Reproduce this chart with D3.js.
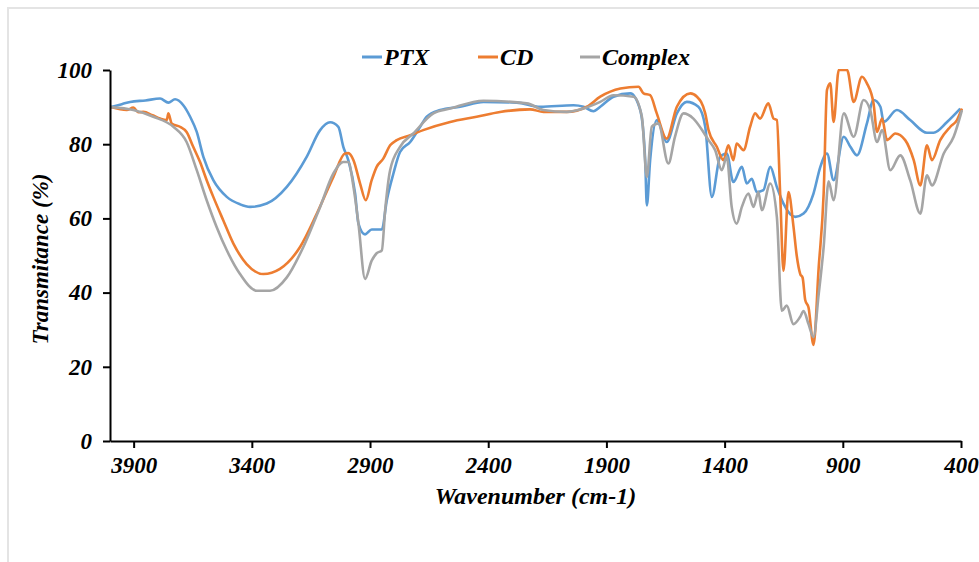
<!DOCTYPE html>
<html>
<head>
<meta charset="utf-8">
<script src="https://cdn.jsdelivr.net/npm/d3@7"></script>
<style>
    body { margin: 0; background: #fff; }
    text { font-family: 'Liberation Serif', 'Times New Roman', serif; font-weight: bold; font-style: italic; }
</style>
</head>
<body>
<script>
// wavenumbers (cm-1) and transmittance (%)
const ptxWn = [3996, 3950, 3915, 3850, 3788, 3753, 3725, 3690, 3661, 3633, 3605, 3563, 3506, 3450, 3408, 3337, 3252, 3168, 3111, 3069, 3034, 3013, 2992, 2963, 2949, 2921, 2893, 2850, 2829, 2801, 2773, 2730, 2688, 2660, 2603, 2519, 2420, 2279, 2180, 2039, 1997, 1955, 1926, 1870, 1799, 1757, 1736, 1729, 1715, 1687, 1645, 1602, 1560, 1511, 1482, 1454, 1419, 1391, 1363, 1327, 1306, 1285, 1264, 1236, 1207, 1179, 1151, 1101, 1066, 1024, 995, 967, 939, 896, 868, 840, 798, 770, 741, 727, 671, 615, 544, 516, 459, 403]
const ptxT = [90.0, 90.8, 91.4, 91.8, 92.3, 91.2, 92.1, 90.5, 87.4, 83.3, 76.6, 70.3, 65.8, 63.8, 63.1, 64.0, 68.5, 76.6, 83.8, 85.9, 84.7, 79.3, 75.7, 66.7, 58.6, 55.7, 57.0, 57.0, 64.9, 72.1, 77.9, 80.6, 84.7, 87.4, 89.2, 90.1, 91.4, 91.2, 90.1, 90.5, 90.1, 88.9, 90.1, 92.8, 93.7, 89.2, 75.7, 63.5, 75.7, 86.5, 80.6, 88.3, 91.4, 90.1, 84.7, 65.8, 76.6, 77.5, 69.8, 73.9, 69.4, 70.7, 67.1, 67.6, 73.9, 68.5, 64.0, 60.4, 61.3, 66.7, 73.9, 77.5, 70.3, 82.0, 79.3, 77.0, 85.6, 91.9, 90.1, 86.0, 89.2, 86.5, 83.1, 83.1, 86.0, 89.6]

const cdWn = [3996, 3929, 3901, 3880, 3859, 3820, 3788, 3760, 3753, 3739, 3704, 3676, 3648, 3619, 3591, 3563, 3521, 3478, 3422, 3351, 3281, 3196, 3125, 3055, 3006, 2992, 2970, 2942, 2918, 2893, 2872, 2844, 2815, 2787, 2730, 2675, 2561, 2449, 2350, 2223, 2166, 2068, 1983, 1926, 1841, 1764, 1743, 1715, 1687, 1645, 1602, 1545, 1517, 1482, 1468, 1433, 1405, 1384, 1363, 1349, 1320, 1292, 1271, 1250, 1215, 1193, 1179, 1165, 1151, 1130, 1109, 1095, 1080, 1070, 1059, 1045, 1024, 1002, 981, 967, 953, 939, 917, 882, 854, 819, 798, 770, 755, 734, 713, 678, 636, 600, 572, 544, 523, 488, 445, 417, 396]
const cdT = [90.0, 89.2, 89.9, 88.6, 88.7, 87.8, 86.9, 86.5, 88.3, 85.6, 84.7, 83.3, 79.3, 75.2, 70.3, 65.8, 59.5, 53.2, 47.7, 45.0, 46.4, 52.3, 61.3, 71.2, 77.5, 77.6, 75.7, 69.4, 64.9, 70.3, 73.9, 76.1, 79.7, 81.1, 82.4, 83.8, 86.0, 87.4, 88.7, 89.4, 88.7, 88.7, 90.1, 92.8, 95.0, 95.5, 93.7, 93.2, 88.3, 81.5, 90.1, 93.7, 92.8, 88.3, 83.8, 79.3, 75.7, 79.7, 75.7, 80.2, 78.4, 84.7, 88.3, 86.9, 91.0, 86.9, 86.5, 66.7, 45.9, 67.1, 58.0, 50.0, 45.0, 44.0, 38.0, 36.0, 25.9, 46.8, 66.7, 94.6, 96.4, 86.0, 100, 100, 91.4, 98.2, 96.4, 91.0, 83.3, 86.9, 81.1, 82.9, 81.1, 75.7, 68.9, 79.7, 75.7, 81.1, 84.7, 86.5, 89.6]

const cxWn = [3996, 3901, 3817, 3732, 3676, 3633, 3591, 3549, 3506, 3450, 3379, 3323, 3252, 3182, 3111, 3055, 3013, 2992, 2970, 2949, 2921, 2893, 2872, 2850, 2836, 2815, 2773, 2717, 2632, 2561, 2420, 2237, 2166, 2068, 1997, 1926, 1870, 1785, 1750, 1729, 1708, 1680, 1638, 1610, 1574, 1532, 1490, 1468, 1440, 1412, 1391, 1370, 1349, 1327, 1299, 1278, 1257, 1243, 1207, 1179, 1158, 1137, 1109, 1080, 1066, 1045, 1024, 1002, 981, 960, 939, 896, 854, 812, 784, 755, 734, 699, 657, 615, 572, 544, 523, 473, 431, 396]
const cxT = [90.0, 89.2, 87.4, 84.7, 80.6, 73.0, 64.9, 57.7, 51.4, 45.0, 40.5, 40.5, 44.1, 52.3, 63.1, 72.1, 75.2, 75.2, 68.5, 58.6, 43.7, 48.6, 50.6, 51.4, 62.2, 73.0, 79.3, 82.9, 88.3, 89.6, 91.7, 91.0, 89.2, 88.7, 89.6, 91.4, 93.2, 92.8, 87.4, 71.2, 84.7, 85.6, 74.8, 82.0, 88.3, 86.9, 83.3, 81.1, 78.4, 73.0, 76.6, 63.1, 58.6, 63.1, 66.7, 63.1, 67.1, 62.2, 69.4, 60.4, 35.1, 36.5, 31.5, 33.5, 35.0, 31.5, 28.0, 39.6, 52.3, 70.0, 64.9, 88.3, 82.0, 91.9, 89.2, 80.6, 83.8, 73.0, 77.0, 70.3, 61.3, 71.6, 68.9, 77.5, 82.0, 89.2]

const seriesNames = ['PTX', 'CD', 'Complex']
const seriesColors = ['#5b9bd5', '#ed7d31', '#a5a5a5']
const xTicks = [3900, 3400, 2900, 2400, 1900, 1400, 900, 400]
const yTicks = [0, 20, 40, 60, 80, 100]

document.addEventListener('DOMContentLoaded', () => {

    const width = 979
    const height = 562
    const margin = { left: 110, right: 18, top: 70, bottom: 121 }

    const svg = d3.select('body').append('svg')
        .attr('width', width)
        .attr('height', height)

    // faint frame round the chart area
    svg.append('rect')
        .attr('x', 8)
        .attr('y', 8)
        .attr('width', width)
        .attr('height', height)
        .attr('fill', 'none')
        .attr('stroke', '#e4e4e4')
        .attr('stroke-width', 2)

    const x = d3.scaleLinear()
        .domain([4000, 400])
        .range([margin.left, width - margin.right])

    const y = d3.scaleLinear()
        .domain([0, 100])
        .range([height - margin.bottom, margin.top])

    const series = [
        { wn: ptxWn, t: ptxT },
        { wn: cdWn, t: cdT },
        { wn: cxWn, t: cxT }
    ].map((s, i) => ({
        name: seriesNames[i],
        color: seriesColors[i],
        values: s.wn.map((w, j) => ({ wn: w, t: s.t[j] }))
    }))

    const line = d3.line()
        .x(d => x(d.wn))
        .y(d => y(d.t))
        .curve(d3.curveMonotoneX)

    svg.append('defs').append('clipPath')
        .attr('id', 'plot-clip')
        .append('rect')
        .attr('x', margin.left)
        .attr('y', margin.top - 1)
        .attr('width', width - margin.right - margin.left + 2)
        .attr('height', height - margin.bottom - margin.top + 1)

    svg.append('g')
        .attr('clip-path', 'url(#plot-clip)')
        .selectAll('path')
        .data(series)
        .enter()
        .append('path')
        .attr('d', d => line(d.values))
        .attr('fill', 'none')
        .attr('stroke', d => d.color)
        .attr('stroke-width', 2.6)
        .attr('stroke-linejoin', 'round')

    // axes
    svg.append('g')
        .attr('transform', `translate(${margin.left},0)`)
        .call(d3.axisLeft(y).tickValues(yTicks).tickFormat(d3.format('d'))
            .tickSize(7).tickSizeOuter(0).tickPadding(11))

    svg.append('g')
        .attr('transform', `translate(0,${height - margin.bottom})`)
        .call(d3.axisBottom(x).tickValues(xTicks).tickFormat(d3.format('d'))
            .tickSize(7).tickSizeOuter(0).tickPadding(9))

    svg.selectAll('.domain, .tick line')
        .attr('stroke', '#000')
        .attr('stroke-width', 2)

    svg.selectAll('.tick text')
        .attr('fill', '#000')
        .attr('font-family', null)
        .style('font-size', '23px')

    // axis titles
    svg.append('text')
        .attr('x', (margin.left + width - margin.right) / 2)
        .attr('y', 504)
        .attr('text-anchor', 'middle')
        .style('font-size', '24px')
        .text('Wavenumber (cm-1)')

    svg.append('text')
        .attr('transform', 'translate(48,259) rotate(-90)')
        .attr('text-anchor', 'middle')
        .style('font-size', '23px')
        .text('Transmitance (%)')

    // legend
    const legendX = [362, 478, 580]
    const legend = svg.selectAll('g.legend')
        .data(series)
        .enter()
        .append('g')
        .attr('class', 'legend')
        .attr('transform', (d, i) => `translate(${legendX[i]},57)`)

    legend.append('line')
        .attr('x1', 0)
        .attr('x2', 20)
        .attr('stroke', d => d.color)
        .attr('stroke-width', 3)

    legend.append('text')
        .attr('x', 22)
        .attr('y', 8)
        .style('font-size', '24px')
        .text(d => d.name)

})
</script>
</body>
</html>
